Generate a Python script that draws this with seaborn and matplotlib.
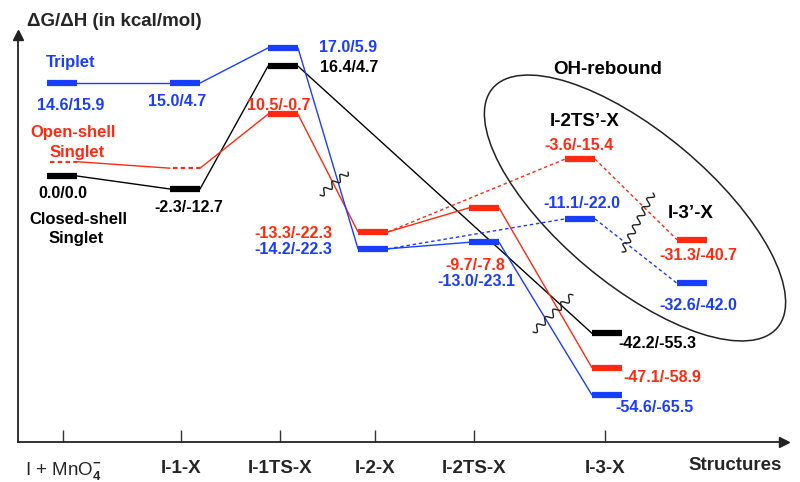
import numpy as np
import pandas as pd
import matplotlib
matplotlib.use("Agg")
import matplotlib.pyplot as plt
from matplotlib.patches import Ellipse
import seaborn as sns

# x axis: structures and where they sit (px)
structures = ["I + MnO$_4^{-}$", "I-1-X", "I-1TS-X", "I-2-X", "I-2TS-X", "I-3-X"]
tick_x = [63, 181, 280, 375, 474, 605]
level_x = [62, 185, 283, 373, 484, 607]
rebound = ["I-2TS\u2019-X", "I-3\u2019-X"]
rebound_x = [580, 692]

# drawn heights of the levels (the diagram is schematic, with breaks)
closed_y = [0.0, -2.0, 16.9, np.nan, np.nan, -24.2]
open_y = [2.2, 1.2, 9.5, -8.6, -4.9, -29.5]
open_reb_y = [2.6, -9.8]
trip_y = [14.3, 14.3, 19.7, -11.2, -10.2, -33.7]
trip_reb_y = [-6.6, -16.5]

# dG/dH labels
closed_lab = ["0.0/0.0", "-2.3/-12.7", "16.4/4.7", "", "", "-42.2/-55.3"]
open_lab = ["", "", "10.5/-0.7", "-13.3/-22.3", "-9.7/-7.8", "-47.1/-58.9"]
open_reb_lab = ["-3.6/-15.4", "-31.3/-40.7"]
trip_lab = ["14.6/15.9", "15.0/4.7", "17.0/5.9", "-14.2/-22.3", "-13.0/-23.1", "-54.6/-65.5"]
trip_reb_lab = ["-11.1/-22.0", "-32.6/-42.0"]

BLACK, RED, BLUE = "#000000", "#ff2a10", "#1a3dff"
pal = {"closed": BLACK, "open": RED, "triplet": BLUE}

sns.set_theme(style="white")
plt.rcParams["font.family"] = ["Liberation Sans", "DejaVu Sans"]
plt.rcParams["font.weight"] = "bold"
plt.rcParams["mathtext.fontset"] = "custom"
plt.rcParams["mathtext.rm"] = "Liberation Sans"
plt.rcParams["mathtext.it"] = "Liberation Sans:italic"

W, H = 800, 482
Y0, S = 176, 6.5   # pixel row of zero and px per unit
def py(p):
    return (Y0 - p) / S

fig = plt.figure(figsize=(8, 4.82), dpi=100)
ax = fig.add_axes([18 / W, (H - 442) / H, (784 - 18) / W, (442 - 35) / H])
ax.set_xlim(18, 784)
ax.set_ylim(py(442), py(35))
deco = fig.add_axes([0, 0, 1, 1], zorder=3)
deco.set_xlim(0, W)
deco.set_ylim(H, 0)
deco.axis("off")
deco.patch.set_alpha(0)

hw = 15
rows = []
seg = [0]
def connect(state, xs, ys, kind):
    pts = [(x, y) for x, y in zip(xs, ys) if not np.isnan(y)]
    for (xa, ya), (xb, yb) in zip(pts[:-1], pts[1:]):
        rows.append(dict(x=xa + hw, y=ya, state=state, kind=kind, seg=seg[0]))
        rows.append(dict(x=xb - hw, y=yb, state=state, kind=kind, seg=seg[0]))
        seg[0] += 1

connect("closed", level_x, closed_y, "solid")
connect("open", level_x, open_y, "solid")
connect("triplet", level_x, trip_y, "solid")
connect("open", [level_x[3]] + rebound_x, [open_y[3]] + open_reb_y, "dashed")
connect("triplet", [level_x[3]] + rebound_x, [trip_y[3]] + trip_reb_y, "dashed")
df = pd.DataFrame(rows)

sns.lineplot(data=df, x="x", y="y", hue="state", style="kind", units="seg",
             estimator=None, sort=False, palette=pal,
             dashes={"solid": "", "dashed": (2.5, 2)}, lw=1.0, legend=False, ax=ax)

# energy levels
for xs, ys, c in [(level_x, closed_y, BLACK), (level_x, trip_y, BLUE),
                  (level_x[2:], open_y[2:], RED),
                  (rebound_x, open_reb_y, RED), (rebound_x, trip_reb_y, BLUE)]:
    xs = np.array(xs, float)
    ax.hlines(ys, xs - hw, xs + hw, color=c, lw=4.5, zorder=4)
xs = np.array(level_x[:2], float)
ax.hlines(open_y[:2], xs - hw + 3, xs + hw, color=RED, lw=1.6,
          linestyles=(0, (2, 1.5)), zorder=4)

# axes styling
for s in ["top", "right"]:
    ax.spines[s].set_visible(False)
for s in ["left", "bottom"]:
    ax.spines[s].set_color("#222222")
    ax.spines[s].set_linewidth(1.3)
ax.set_yticks([])
ax.set_xticks(tick_x)
ax.set_xticklabels(structures, fontsize=13.5, fontweight="bold")
ax.get_xticklabels()[0].set_fontweight("normal")
ax.tick_params(axis="x", direction="in", length=9, width=1, color="#333333",
               pad=13, bottom=True)
ax.set_xlabel("")
ax.set_ylabel("")
ax.plot(1, 0, ">", color="#222222", ms=7, transform=ax.transAxes, clip_on=False)
ax.plot(0, 1, "^", color="#222222", ms=7, transform=ax.transAxes, clip_on=False)

deco.text(27, 22, "\u0394G/\u0394H (in kcal/mol)", fontsize=13.5, va="center", ha="left")
deco.text(735, 465, "Structures", fontsize=13.5, va="center", ha="center")

# level labels (pixel positions)
def put(txt, x, y, c, fs=11.5):
    if txt:
        deco.text(x, y, txt, color=c, fontsize=fs, ha="center", va="center")

closed_pos = [(63, 193), (189, 207), (349, 67), None, None, (657, 343)]
open_pos = [None, None, (279, 106), (293, 233), (475, 265), (662, 378)]
trip_pos = [(71, 106), (177, 102), (348, 47), (293, 250), (476, 281), (655, 407)]
for labs, pos, c in [(closed_lab, closed_pos, BLACK), (open_lab, open_pos, RED),
                     (trip_lab, trip_pos, BLUE)]:
    for t, p in zip(labs, pos):
        if p:
            put(t, p[0], p[1], c)
put(open_reb_lab[0], 579, 146, RED)
put(open_reb_lab[1], 698, 255, RED)
put(trip_reb_lab[0], 582, 203, BLUE)
put(trip_reb_lab[1], 698, 305, BLUE)

put("Triplet", 71, 62, BLUE, 12)
put("Open-shell", 73, 133, RED, 12)
put("Singlet", 77, 153, RED, 12)
put("Closed-shell", 78, 220, BLACK, 12)
put("Singlet", 76, 238, BLACK, 12)
put("OH-rebound", 608, 69, BLACK, 13.5)
put(rebound[0], 585, 122, BLACK, 13.5)
put(rebound[1], 691, 213, BLACK, 13.5)

# OH-rebound ellipse
deco.add_patch(Ellipse((635, 208), 2 * 186, 2 * 76, angle=40, fill=False,
                       ec="#222222", lw=1.1))

# scale-break squiggles
def squiggle(p0, p1, waves, amp=3.0):
    p0, p1 = np.array(p0, float), np.array(p1, float)
    t = np.linspace(0, 1, 200)
    d = p1 - p0
    n = np.array([-d[1], d[0]]) / np.hypot(*d)
    pts = p0 + np.outer(t, d) + np.outer(amp * np.sin(2 * np.pi * waves * t), n)
    deco.plot(pts[:, 0], pts[:, 1], color="#222222", lw=1.0)

squiggle((320, 195), (348, 172), 3.5)
squiggle((533, 332), (573, 295), 5)
squiggle((622, 252), (653, 193), 6.5)

fig.savefig("out.png", dpi=100)
